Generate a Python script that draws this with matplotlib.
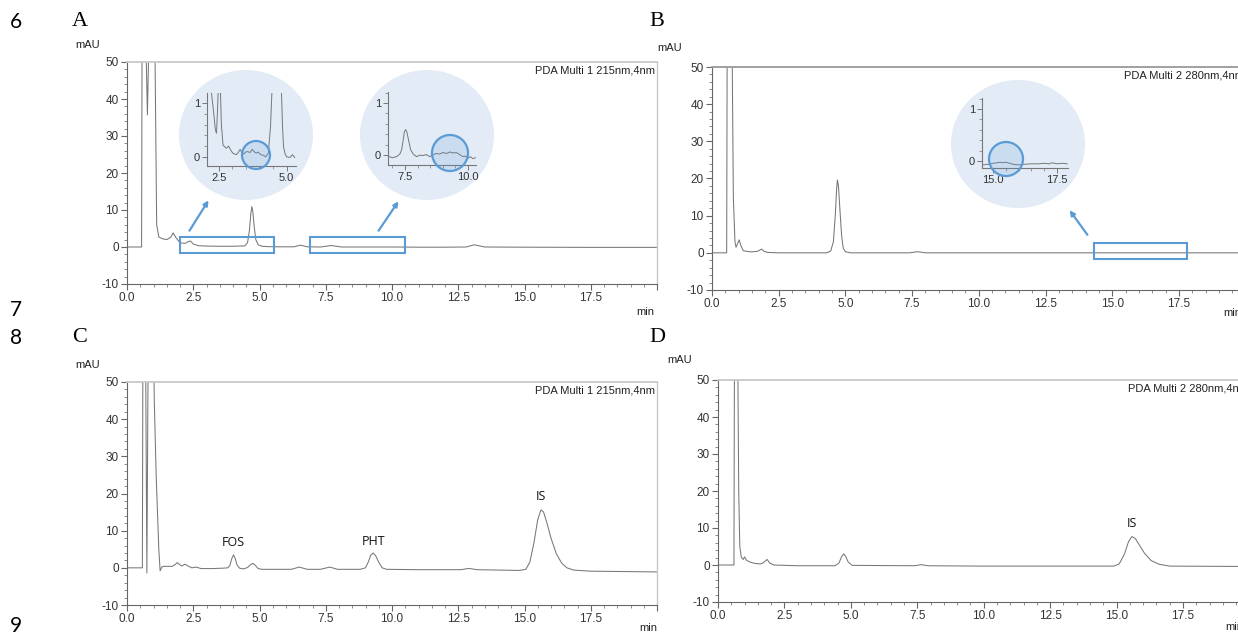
import matplotlib
matplotlib.use("Agg")
import matplotlib.pyplot as plt
from matplotlib.patches import Ellipse, Rectangle
from matplotlib.ticker import MultipleLocator

plt.rcParams["axes.unicode_minus"] = False

# chromatogram A: blank, 215 nm
a_t = [0, 0.55, 0.57, 0.62, 0.70, 0.77, 0.84, 0.95, 1.06, 1.12, 1.2, 1.35, 1.5, 1.65, 1.74, 1.85,
       2.0, 2.2, 2.32, 2.4, 2.5, 2.7, 3.0, 3.5, 4.0, 4.45, 4.55, 4.62, 4.67, 4.71, 4.75, 4.8, 4.86,
       4.95, 5.1, 5.3, 5.8, 6.3, 6.55, 6.8, 7.3, 7.7, 8.1, 9.0, 10.0, 11.0, 12.0, 12.8, 13.1, 13.5,
       15.0, 17.5, 20.0]
a_v = [0, 0, 60, 80, 60, 35.7, 60, 80, 50, 6, 2.7, 2.2, 2.0, 2.6, 3.8, 2.5,
       1.1, 1.0, 1.5, 1.6, 0.8, 0.35, 0.25, 0.2, 0.2, 0.3, 1.2, 4.5, 8.8, 10.9, 9.5, 5.5, 2.0,
       0.6, 0.2, 0.1, 0.05, 0.05, 0.5, 0.05, 0.0, 0.4, 0.0, 0.0, 0.0, -0.05, -0.05, 0.0, 0.6, 0.0,
       -0.05, -0.1, -0.1]

# chromatogram B: blank, 280 nm
b_t = [0, 0.55, 0.57, 0.72, 0.76, 0.8, 0.86, 0.9, 0.96, 1.02, 1.08, 1.17, 1.3, 1.47, 1.7, 1.86,
       1.95, 2.1, 2.5, 3.5, 4.3, 4.45, 4.55, 4.62, 4.67, 4.7, 4.74, 4.8, 4.86, 4.92, 5.0, 5.2,
       7.4, 7.7, 8.0, 12.0, 20.0]
b_v = [0, 0, 60, 60, 50, 15, 3, 1.5, 2.5, 3.5, 2.0, 0.6, 0.4, 0.25, 0.4, 1.0,
       0.4, 0.1, 0, 0, 0, 0.5, 3, 10, 17, 19.6, 18, 11, 4.5, 1.2, 0.3, 0,
       0, 0.3, 0, 0, 0]

# chromatogram C: spiked sample, 215 nm
c_t = [0, 0.58, 0.6, 0.7, 0.75, 0.8, 1.0, 1.03, 1.1, 1.2, 1.25, 1.32, 1.4, 1.7, 1.8, 1.9, 2.0,
       2.07, 2.19, 2.3, 2.45, 2.6, 2.8, 3.2, 3.6, 3.8, 3.88, 3.95, 4.02, 4.08, 4.15, 4.25, 4.4,
       4.55, 4.65, 4.75, 4.85, 4.95, 5.1, 6.2, 6.5, 6.8, 7.3, 7.65, 7.95, 8.8, 9.0, 9.1, 9.2,
       9.29, 9.38, 9.5, 9.63, 9.8, 11.0, 12.6, 12.9, 13.2, 14.8, 15.05, 15.2, 15.35, 15.5, 15.62,
       15.72, 15.85, 16.0, 16.2, 16.4, 16.6, 16.85, 17.5, 20.0]
c_v = [0, 0, 60, 60, -1.4, 60, 60, 45, 25, 5, -0.8, 0.3, 0.4, 0.4, 0.8, 1.4, 0.8,
       0.5, 1.0, 0.5, 0.0, 0.2, -0.2, -0.2, -0.1, 0.0, 0.6, 2.4, 3.5, 2.6, 0.8, -0.1, -0.3,
       0.1, 0.8, 1.2, 0.6, -0.2, -0.4, -0.4, 0.2, -0.4, -0.4, 0.2, -0.4, -0.4, 0.0, 1.5, 3.4,
       4.0, 3.3, 1.5, 0.0, -0.4, -0.5, -0.5, -0.15, -0.5, -0.7, -0.4, 1.5, 6.5, 13, 15.6,
       15, 12, 8, 3.8, 1.3, 0.0, -0.6, -0.9, -1.1]

# chromatogram D: spiked sample, 280 nm
d_t = [0, 0.6, 0.62, 0.74, 0.78, 0.82, 0.88, 0.95, 1.0, 1.07, 1.2, 1.4, 1.6, 1.7, 1.85, 1.95,
       2.1, 3.0, 4.4, 4.55, 4.65, 4.73, 4.8, 4.9, 5.05, 7.4, 7.65, 7.9, 10.0, 12.0, 14.9, 15.1,
       15.3, 15.45, 15.58, 15.7, 15.85, 16.05, 16.3, 16.6, 17.0, 20.0]
d_v = [0, 0, 60, 60, 20, 5, 2, 1.5, 2.2, 1.3, 0.8, 0.4, 0.3, 0.6, 1.5, 0.5,
       0.0, -0.2, -0.2, 0.5, 2.2, 3.0, 2.4, 0.8, -0.1, -0.2, 0.1, -0.2, -0.3, -0.3, -0.3, 0.3,
       3.0, 6.3, 7.7, 7.2, 5.5, 3.2, 1.2, 0.2, -0.3, -0.4]

# zoomed insets
i1_t = [2.07, 2.15, 2.22, 2.3, 2.38, 2.42, 2.46, 2.5, 2.55, 2.6, 2.66, 2.78, 2.87, 2.95, 3.02,
        3.14, 3.22, 3.29, 3.35, 3.41, 3.5, 3.57, 3.65, 3.74, 3.8, 3.88, 3.95, 4.05, 4.15, 4.23,
        4.33, 4.41, 4.47, 4.6, 4.81, 4.85, 4.89, 4.95, 5.01, 5.13, 5.22, 5.3]
i1_v = [2.0, 1.3, 1.25, 0.9, 0.5, 0.44, 0.9, 1.5, 1.5, 0.6, 0.22, 0.16, 0.2, 0.12, 0.07,
        0.04, 0.08, 0.14, 0.08, 0.05, 0.09, 0.1, 0.08, 0.14, 0.1, 0.07, 0.09, 0.04, 0.03, 0.0,
        0.07, 0.56, 1.3, 3.0, 1.3, 0.6, 0.19, 0.05, 0.0, -0.01, 0.04, -0.01]
i2_t = [6.88, 7.01, 7.17, 7.3, 7.37, 7.43, 7.48, 7.53, 7.58, 7.64, 7.73, 7.83, 7.96, 8.1, 8.22,
        8.35, 8.49, 8.62, 8.75, 8.88, 9.01, 9.15, 9.28, 9.41, 9.54, 9.67, 9.8, 9.9, 10.0, 10.1,
        10.2, 10.3]
i2_v = [-0.03, -0.05, -0.03, 0.02, 0.1, 0.28, 0.45, 0.49, 0.44, 0.3, 0.1, 0.02, -0.03, 0.0, -0.01,
        0.01, -0.03, 0.01, 0.03, 0.02, 0.05, 0.03, 0.06, 0.04, 0.05, 0.01, -0.03, -0.02, -0.06,
        -0.03, -0.07, -0.05]
ib_t = [14.6, 14.8, 15.0, 15.15, 15.3, 15.4, 15.5, 15.65, 15.8, 16.0, 16.2, 16.5, 16.8, 17.0,
        17.2, 17.3, 17.5, 17.7, 17.9]
ib_v = [-0.07, -0.06, -0.04, -0.03, -0.02, -0.03, -0.02, -0.04, -0.06, -0.07, -0.06, -0.05,
        -0.05, -0.04, -0.05, -0.03, -0.05, -0.04, -0.05]

# zoom windows drawn as boxes on the main chromatograms
zoom_a = [(2.0, 5.55), (6.92, 10.5)]
zoom_b = (14.32, 17.8)
zoom_y = (-1.6, 2.6)

W, H = 1238, 632
fig = plt.figure(figsize=(W / 100, H / 100), dpi=100)
fig.patch.set_facecolor("white")

TICK = "Liberation Sans"
TRACE = "#777777"
BLUE = "#5b9bd5"
DISC = "#e2ebf6"


def box(left, top, right, bottom):
    return [left / W, 1 - bottom / H, (right - left) / W, (bottom - top) / H]


def pt(x, y):
    return (x / W, 1 - y / H)


def fmt_time(x, p):
    # the instrument software leaves the last tick (20.0) unlabelled
    return "" if x > 19.9 else f"{x:.1f}"


def chrom(rect, t, v, channel, top_color="#c8c8c8"):
    ax = fig.add_axes(box(*rect))
    ax.plot(t, v, color=TRACE, lw=0.75)
    ax.set_xlim(0, 20)
    ax.set_ylim(-10, 50)
    ax.xaxis.set_major_locator(MultipleLocator(2.5))
    ax.xaxis.set_minor_locator(MultipleLocator(0.5))
    ax.yaxis.set_major_locator(MultipleLocator(10))
    ax.yaxis.set_minor_locator(MultipleLocator(2))
    ax.xaxis.set_major_formatter(fmt_time)
    ax.tick_params(which="major", length=4, width=0.8, color="#666", labelsize=8.5,
                   labelcolor="#333", pad=2)
    ax.tick_params(which="minor", length=2.5, width=0.6, color="#777")
    for lab in ax.get_xticklabels() + ax.get_yticklabels():
        lab.set_fontfamily(TICK)
    for s in ["left", "bottom"]:
        ax.spines[s].set_color("#666")
        ax.spines[s].set_linewidth(0.8)
    ax.spines["top"].set_color(top_color)
    ax.spines["top"].set_linewidth(1.3)
    ax.spines["right"].set_color("#c8c8c8")
    ax.spines["right"].set_linewidth(1.0)
    ax.text(0.997, 0.985, channel, transform=ax.transAxes, ha="right", va="top",
            fontsize=8, family=TICK, color="#222")
    return ax


def inset(rect, t, v, xlim, ylim, major):
    ax = fig.add_axes(box(*rect), zorder=3)
    ax.set_facecolor("none")
    ax.plot(t, v, color=TRACE, lw=0.7)
    ax.set_xlim(*xlim)
    ax.set_ylim(*ylim)
    ax.set_xticks(major)
    ax.xaxis.set_minor_locator(MultipleLocator(0.5))
    ax.set_yticks([0, 1])
    ax.yaxis.set_minor_locator(MultipleLocator(0.2))
    ax.xaxis.set_major_formatter(lambda x, p: f"{x:.1f}")
    ax.tick_params(which="major", length=3.5, width=0.7, color="#777", labelsize=8,
                   labelcolor="#333", pad=1.5)
    ax.tick_params(which="minor", length=2, width=0.6, color="#888")
    for lab in ax.get_xticklabels() + ax.get_yticklabels():
        lab.set_fontfamily(TICK)
    for s in ["top", "right"]:
        ax.spines[s].set_visible(False)
    for s in ["left", "bottom"]:
        ax.spines[s].set_color("#777")
        ax.spines[s].set_linewidth(0.8)
    return ax


def disc(cx, cy, w, h, z=1):
    fig.add_artist(Ellipse(pt(cx, cy), w / W, h / H, transform=fig.transFigure,
                           facecolor=DISC, edgecolor="none", zorder=z))


def ring(cx, cy, r):
    fig.add_artist(Ellipse(pt(cx, cy), 2 * r / W, 2 * r / H, transform=fig.transFigure,
                           facecolor=(0.36, 0.61, 0.84, 0.18), edgecolor=BLUE, lw=1.6, zorder=5))


def arrow(x0, y0, x1, y1):
    fig.add_artist(matplotlib.patches.FancyArrowPatch(
        pt(x0, y0), pt(x1, y1), transform=fig.transFigure, arrowstyle="-|>",
        mutation_scale=7, color=BLUE, lw=1.6, zorder=5))


def window(ax, x0, x1):
    ax.add_patch(Rectangle((x0, zoom_y[0]), x1 - x0, zoom_y[1] - zoom_y[0],
                           fill=False, edgecolor=BLUE, lw=1.5, zorder=4))


ax_a = chrom((127, 62, 657, 284), a_t, a_v, "PDA Multi 1 215nm,4nm")
ax_b = chrom((712, 67, 1245.6, 290), b_t, b_v, "PDA Multi 2 280nm,4nm", top_color="#999")
ax_c = chrom((127, 382, 657, 605), c_t, c_v, "PDA Multi 1 215nm,4nm")
ax_d = chrom((718, 380, 1249.4, 602), d_t, d_v, "PDA Multi 2 280nm,4nm")

for x0, x1 in zoom_a:
    window(ax_a, x0, x1)
window(ax_b, *zoom_b)

# peak labels
lab_font = dict(fontsize=9, family="Open Sans", ha="center", va="bottom", color="#111")
ax_c.text(4.02, 5.0, "FOS", **lab_font)
ax_c.text(9.29, 5.4, "PHT", **lab_font)
ax_c.text(15.62, 17.4, "IS", **lab_font)
ax_d.text(15.58, 9.4, "IS", **lab_font)

# magnified insets
disc(246, 135, 134, 130)
disc(427, 135, 134, 130)
disc(1018, 144, 134, 128)
inset((207, 93, 296, 166), i1_t, i1_v, (2.07, 5.35), (-0.17, 1.19), [2.5, 5.0])
inset((388, 92, 476, 165), i2_t, i2_v, (6.83, 10.32), (-0.19, 1.21), [7.5, 10.0])
inset((982, 98, 1068, 168), ib_t, ib_v, (14.57, 17.93), (-0.13, 1.21), [15.0, 17.5])
ring(256, 155, 14)
ring(450, 153, 18)
ring(1006, 159, 17)
arrow(188, 233, 210, 198)
arrow(377, 233, 400, 199)
arrow(1089, 237, 1068, 208)

# axis unit captions
unit = dict(fontsize=8, family=TICK, color="#222", ha="center", va="center")
for x, y in [(88, 45), (670, 48), (88, 365), (680, 360)]:
    fig.text(*pt(x, y), "mAU", **unit)
for x, y in [(645, 312), (1232, 313), (648, 628), (1234, 627)]:
    fig.text(*pt(x, y), "min", **unit)

# panel letters and manuscript line numbers
for s, x, y in [("A", 80, 22), ("B", 657, 22), ("C", 80, 338), ("D", 657, 337)]:
    fig.text(*pt(x, y), s, fontsize=16, family="Liberation Serif", ha="center", va="center")
for s, y in [("6", 22), ("7", 310), ("8", 338), ("9", 626)]:
    fig.text(*pt(16, y), s, fontsize=15, family="Lato", ha="center", va="center")

fig.savefig("out.png", dpi=100, facecolor="white")
